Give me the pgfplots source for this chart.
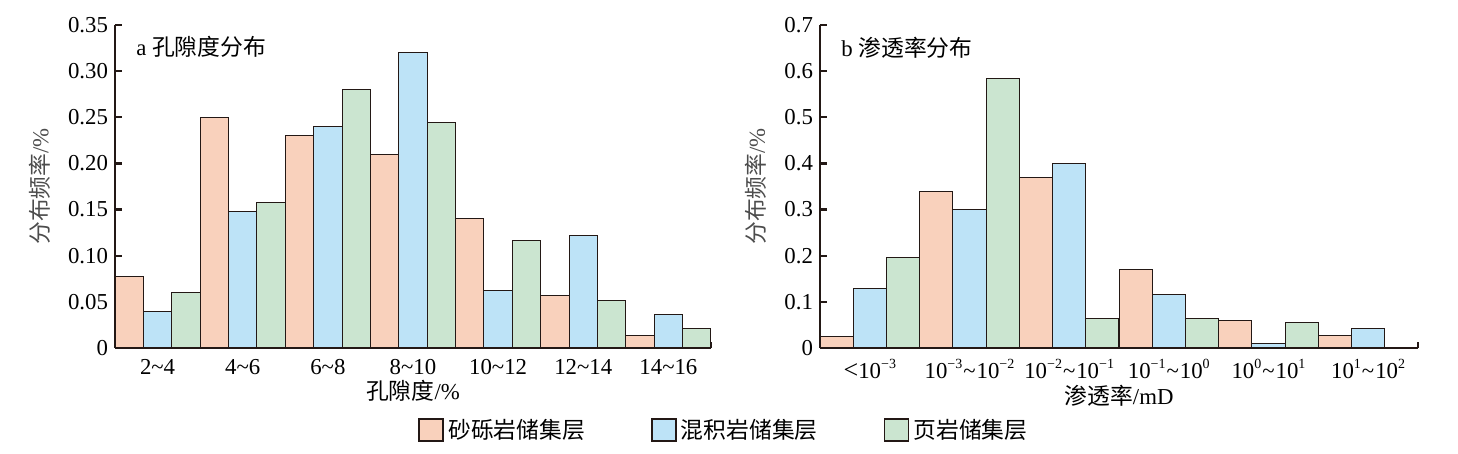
\documentclass[border=0pt]{standalone}
\usepackage{fontspec}
\setmainfont{Liberation Serif}
\newfontfamily\cjk{Noto Sans CJK SC}
\usepackage{pgfplots}
\pgfplotsset{compat=1.18}

\definecolor{cOra}{RGB}{249,209,188}
\definecolor{cBlu}{RGB}{189,227,247}
\definecolor{cGrn}{RGB}{203,229,208}
\definecolor{cEdge}{RGB}{35,24,21}

\newcommand{\fs}{\fontsize{11.4}{13}\selectfont}
\newcommand{\ex}[1]{\raisebox{1.0ex}{\fontsize{7}{7}\selectfont #1}}
\newcommand{\ti}{\kern0.5pt\textasciitilde\kern0.5pt}

\pgfplotsset{
  panel/.style={
    scale only axis,
    height=161.5pt,
    ymin=0,
    axis x line*=bottom,
    axis y line*=left,
    axis line style={line width=1.3pt, cEdge, -},
    ybar,
    bar width=0.3333,
    tick align=inside,
    major tick length=3.5pt,
    minor tick length=3pt,
    tick style={line width=1.1pt, cEdge},
    x tick style={draw=none},
    minor x tick style={draw=cEdge, line width=1.1pt},
    xtick={0,...,6},
    every tick label/.style={font=\fs},
    xticklabel style={yshift=-2pt},
    /pgf/number format/assume math mode=true,
    ylabel style={font=\fs, color=black!70, yshift=2pt},
    xlabel style={font=\fs, yshift=4pt},
    clip=false,
  },
  ora/.style={fill=cOra, draw=cEdge, line width=0.5pt, bar shift=-0.3333},
  blu/.style={fill=cBlu, draw=cEdge, line width=0.5pt, bar shift=0},
  grn/.style={fill=cGrn, draw=cEdge, line width=0.5pt, bar shift=0.3333},
}

\begin{document}
\begin{tikzpicture}
\path (0,0) rectangle (729pt,227pt);

% a: porosity
\begin{axis}[panel,
  at={(57.5pt,53pt)}, anchor=south west,
  width=298pt,
  xmin=-0.5, xmax=6.5,
  ymax=0.35,
  ytick={0,0.05,...,0.35},
  yticklabels={0,0.05,0.10,0.15,0.20,0.25,0.30,0.35},
  minor xtick={0.5,1.5,...,6.5},
  xticklabels={2\textasciitilde4,4\textasciitilde6,6\textasciitilde8,8\textasciitilde10,10\textasciitilde12,12\textasciitilde14,14\textasciitilde16},
  xlabel={{\cjk 孔隙度}/\%},
  ylabel={{\cjk 分布频率}/\%},
  legend columns=3,
  legend style={at={(1.0235,-0.254)}, anchor=center, draw=none,
    font=\fs\cjk,
    /tikz/every even column/.append style={column sep=31pt}},
  legend image code/.code={\draw[#1, line width=0.9pt, draw=cEdge] (0pt,-5.5pt) rectangle (12pt,5.5pt);},
]
\addplot[ora] coordinates {(0,0.078) (1,0.250) (2,0.230) (3,0.210) (4,0.140) (5,0.057) (6,0.013)};
\addplot[blu] coordinates {(0,0.040) (1,0.148) (2,0.240) (3,0.320) (4,0.062) (5,0.122) (6,0.036)};
\addplot[grn] coordinates {(0,0.060) (1,0.158) (2,0.280) (3,0.244) (4,0.117) (5,0.052) (6,0.021)};
\legend{砂砾岩储集层,混积岩储集层,页岩储集层}
\node[anchor=north west, font=\fs, inner sep=0pt] at (rel axis cs:0.035,0.965) {a {\cjk 孔隙度分布}};
\end{axis}

% b: permeability
\begin{axis}[panel,
  at={(410pt,53pt)}, anchor=south west,
  width=299pt,
  xmin=-0.5, xmax=5.5,
  ymax=0.7,
  ytick={0,0.1,...,0.7},
  yticklabels={0,0.1,0.2,0.3,0.4,0.5,0.6,0.7},
  xtick={0,...,5},
  minor xtick={0.5,1.5,...,5.5},
  xticklabels={{\fontsize{13}{13}\selectfont\textless}10\ex{−3},
    10\ex{−3}\ti10\ex{−2},
    10\ex{−2}\ti10\ex{−1},
    10\ex{−1}\ti10\ex{0},
    10\ex{0}\ti10\ex{1},
    10\ex{1}\ti10\ex{2}},
  xlabel={{\cjk 渗透率}/mD},
  ylabel={{\cjk 分布频率}/\%},
]
\addplot[ora] coordinates {(0,0.025) (1,0.340) (2,0.370) (3,0.170) (4,0.060) (5,0.027)};
\addplot[blu] coordinates {(0,0.128) (1,0.300) (2,0.400) (3,0.115) (4,0.010) (5,0.043)};
\addplot[grn] coordinates {(0,0.197) (1,0.585) (2,0.065) (3,0.065) (4,0.056)};
\node[anchor=north west, font=\fs, inner sep=0pt] at (rel axis cs:0.035,0.965) {b {\cjk 渗透率分布}};
\end{axis}
\end{tikzpicture}
\end{document}
